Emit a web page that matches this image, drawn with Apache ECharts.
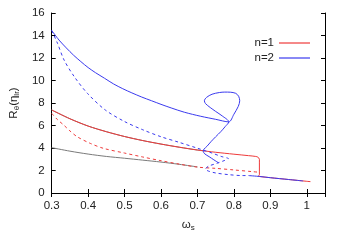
<!DOCTYPE html>
<html><head><meta charset="utf-8">
<script src="https://cdn.jsdelivr.net/npm/echarts@6/dist/echarts.min.js"></script>
<style>html,body{margin:0;padding:0;background:#fff}#c{width:346px;height:242px}</style>
</head><body><div id="c"></div>
<script>
// n=1 solid (red)
const n1SolidX = [0.3,0.35,0.4,0.45,0.5,0.55,0.6,0.65,0.7,0.75,0.8,0.84,0.86,0.866,0.87,0.87,0.867,0.872,0.9,0.95,1.0,1.01];
const n1SolidY = [7.38,6.6,5.95,5.45,5.02,4.66,4.35,4.07,3.82,3.62,3.45,3.32,3.25,3.18,3.0,1.62,1.5,1.46,1.36,1.2,1.04,1.01];
// n=1 dashed (red)
const n1DashX = [0.3,0.315,0.333,0.35,0.37,0.406,0.442,0.5,0.55,0.6,0.65,0.7,0.75,0.8,0.85,0.868];
const n1DashY = [7.08,6.55,6.04,5.52,5.0,4.41,3.97,3.55,3.2,2.87,2.57,2.3,2.19,2.05,1.9,1.85];
// gray curves (no legend entry)
const grayUpX = [0.3,0.35,0.4,0.45,0.5,0.55,0.6,0.65,0.7,0.72];
const grayUpY = [7.38,6.6,5.95,5.45,5.02,4.66,4.35,4.07,3.82,3.74];
const grayLowX = [0.3,0.35,0.4,0.45,0.5,0.55,0.6,0.65,0.7];
const grayLowY = [4.03,3.72,3.46,3.25,3.09,2.92,2.75,2.55,2.32];
// n=2 solid (blue)
const n2SolidX = [0.3,0.32,0.34,0.36,0.38,0.4,0.42,0.445,0.47,0.495,0.52,0.547,0.574,0.6,0.628,0.664,0.709,0.75,0.786,0.8,0.812,0.816,0.813,0.805,0.79,0.775,0.76,0.74,0.725,0.719,0.722,0.735,0.75,0.768,0.786,0.776,0.764,0.75,0.737,0.726,0.718,0.716,0.72,0.732,0.745,0.758];
const n2SolidY = [14.45,13.6,12.9,12.25,11.68,11.15,10.7,10.2,9.69,9.27,8.9,8.53,8.2,7.88,7.56,7.18,6.82,6.55,6.32,7.0,7.7,8.2,8.6,8.86,8.96,8.97,8.93,8.78,8.5,8.2,7.95,7.6,7.25,6.85,6.32,5.9,5.45,5.0,4.56,4.15,3.9,3.7,3.48,3.23,2.95,2.68];
const n2LowX = [0.84,0.87,0.9,0.95,0.99];
const n2LowY = [1.55,1.47,1.36,1.2,1.07];
// n=2 dashed (blue)
const n2DashX = [0.3,0.316,0.334,0.362,0.398,0.447,0.5,0.55,0.6,0.65,0.7,0.74,0.765,0.785,0.775,0.76,0.745,0.73,0.722,0.73,0.75,0.786,0.823,0.84];
const n2DashY = [14.45,13.3,11.82,10.34,8.86,7.38,6.35,5.62,5.0,4.5,3.98,3.55,3.25,3.05,2.9,2.72,2.55,2.38,2.12,1.95,1.78,1.63,1.55,1.55];
// ticks
const xTicks = {min:0.3, max:1.05, interval:0.1};
const yTicks = {min:0, max:16, interval:2};

const zip = (xs, ys) => xs.map((x,i)=>[x, ys[i]]);
const RED = '#ee3a3a', BLUE = '#3a3aee', GRAY = '#7a7a7a';
const FONT = 'Liberation Sans, Arial, sans-serif';
const line = (name, xs, ys, color, dashed, z) => ({
  name, type:'line', data: zip(xs, ys), symbol:'none', smooth:0.3,
  z: z||2,
  lineStyle:{color, width:1, type: dashed ? [3,3] : 'solid'}, itemStyle:{color},
  animation:false, silent:true
});
const chart = echarts.init(document.getElementById('c'), null, {renderer:'canvas'});
const axisCommon = {
  axisLine:{show:true, lineStyle:{color:'#000', width:1}},
  axisTick:{show:true, inside:true, length:4, lineStyle:{color:'#000'}},
  splitLine:{show:false}
};
chart.setOption({
  animation:false,
  grid:{left:49, right:21, top:13, bottom:49, containLabel:false},
  legend:{
    data:['n=1','n=2'], orient:'vertical', right:31, top:32, align:'right',
    icon:'rect', itemWidth:31, itemHeight:1.2, itemGap:3,
    textStyle:{fontFamily:FONT, fontSize:11.5, color:'#222'},
    selectedMode:false
  },
  xAxis:[
    Object.assign({type:'value', position:'bottom', min:xTicks.min, max:xTicks.max, interval:xTicks.interval,
      name:'ω{s|s}', nameLocation:'middle', nameGap:25,
      nameTextStyle:{fontFamily:FONT, fontSize:11.5, color:'#222', rich:{s:{fontFamily:FONT, fontSize:8, color:'#222', padding:[6,0,0,0]}}},
      axisLabel:{fontFamily:FONT, fontSize:11.5, color:'#222', margin:7,
        formatter:v => Math.abs(v-1.05)<1e-6 ? '' : String(+v.toFixed(2))}}, axisCommon),
    Object.assign({type:'value', position:'top', min:xTicks.min, max:xTicks.max, interval:xTicks.interval,
      axisLabel:{show:false}}, axisCommon)
  ],
  yAxis:[
    Object.assign({type:'value', position:'left', min:yTicks.min, max:yTicks.max, interval:yTicks.interval,
      name:'R{s|θ}(η{s|lr})', nameLocation:'middle', nameGap:30, nameRotate:90,
      nameTextStyle:{fontFamily:FONT, fontSize:11.5, color:'#222', rich:{s:{fontFamily:FONT, fontSize:8, color:'#222', padding:[6,0,0,0]}}},
      axisLabel:{fontFamily:FONT, fontSize:11.5, color:'#222', margin:7}}, axisCommon),
    Object.assign({type:'value', position:'right', min:yTicks.min, max:yTicks.max, interval:yTicks.interval,
      axisLabel:{show:false}}, axisCommon)
  ],
  series:[
    line('g1', grayUpX, grayUpY, GRAY, false, 1),
    line('g2', grayLowX, grayLowY, GRAY, false, 1),
    line('n=1', n1SolidX, n1SolidY, RED, false, 2),
    line('n=1 d', n1DashX, n1DashY, RED, true, 2),
    line('n=2', n2SolidX, n2SolidY, BLUE, false, 3),
    line('n=2 low', n2LowX, n2LowY, BLUE, false, 3),
    line('n=2 d', n2DashX, n2DashY, BLUE, true, 3)
  ]
});
</script></body></html>
